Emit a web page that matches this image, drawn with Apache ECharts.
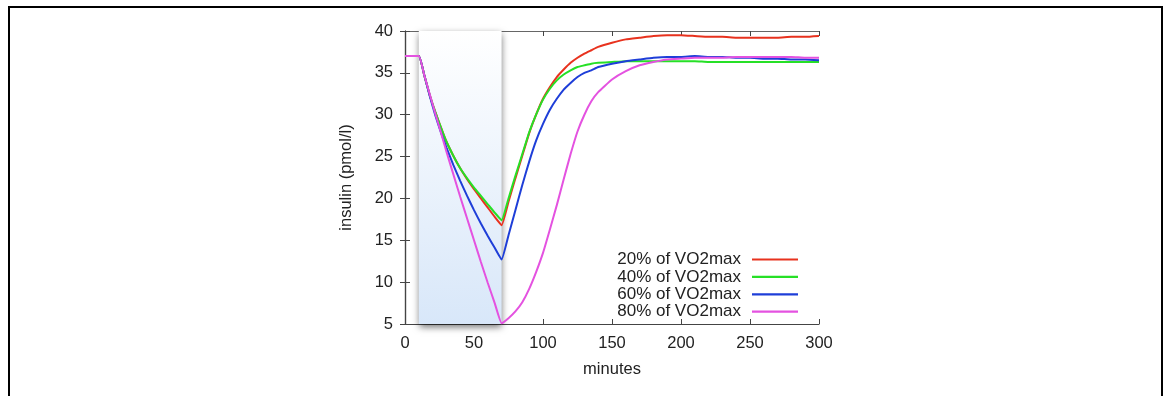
<!DOCTYPE html>
<html><head><meta charset="utf-8">
<script src="https://cdn.jsdelivr.net/npm/echarts@6/dist/echarts.min.js"></script>
<style>html,body{margin:0;padding:0;background:#fff}#c{width:1165px;height:396px}</style>
</head><body><div id="c"></div>
<script>
const minutes = [0,10,14,18,22,26,30,35,40,45,50,55,60,65,70,75,80,85,90,95,100,105,110,115,120,125,130,135,140,150,160,170,180,190,200,210,220,230,240,250,260,270,280,290,300];
const vo20 = [37,37,34.7,32.3,30.3,28.5,26.8,25.1,23.6,22.3,21.1,20.0,18.9,17.8,16.8,19.6,22.4,25.1,27.8,30.0,31.9,33.3,34.5,35.4,36.2,36.8,37.3,37.7,38.1,38.6,39.0,39.2,39.4,39.5,39.5,39.4,39.3,39.3,39.2,39.2,39.2,39.2,39.3,39.3,39.4];
const vo40 = [37,37,34.7,32.3,30.3,28.5,26.8,25.1,23.6,22.4,21.3,20.3,19.3,18.3,17.4,20.0,22.7,25.3,27.9,30.0,31.8,33.1,34.1,34.8,35.3,35.7,35.9,36.1,36.2,36.3,36.4,36.4,36.4,36.4,36.4,36.4,36.3,36.3,36.3,36.3,36.3,36.3,36.3,36.3,36.3];
const vo60 = [37,37,34.7,32.2,29.9,27.9,26.1,24.0,22.1,20.3,18.6,17.0,15.5,14.1,12.7,15.6,18.6,21.6,24.4,26.9,28.9,30.6,31.9,33.0,33.8,34.5,35.0,35.3,35.7,36.1,36.4,36.6,36.8,36.9,36.9,37.0,36.9,36.9,36.8,36.8,36.7,36.7,36.6,36.6,36.5];
const vo80 = [37,37,34.7,32.4,30.1,27.9,25.6,22.9,20.2,17.6,15.0,12.4,9.9,7.5,5.1,5.7,6.5,7.6,9.2,11.2,13.5,16.3,19.2,22.3,25.3,28.0,30.0,31.6,32.7,34.2,35.2,35.9,36.3,36.6,36.7,36.8,36.8,36.8,36.9,36.9,36.9,36.9,36.9,36.8,36.8];
const seriesNames = ['20% of VO2max','40% of VO2max','60% of VO2max','80% of VO2max'];
const exercise = [10, 70];

const FONT = 'Liberation Sans, Arial, Helvetica, sans-serif';
const colors = ['#e8321e','#26e026','#1e3ed8','#e452e0'];
const pair = v => minutes.map((m,i)=>[m,v[i]]);
const allVals = [vo20, vo40, vo60, vo80];

const series = allVals.map((v,i)=>({
  name: seriesNames[i], type:'line', data: pair(v), symbol:'none', showSymbol:false,
  smooth:0.12,
  lineStyle:{color:colors[i], width:2}, itemStyle:{color:colors[i]}, z: 3+i
}));
series[0].markArea = {
  silent:true,
  itemStyle:{
    color:{type:'linear',x:0,y:0,x2:0,y2:1,colorStops:[{offset:0,color:'#ffffff'},{offset:1,color:'#d8e7f9'}]},
    shadowBlur:7, shadowColor:'rgba(0,0,0,0.55)', shadowOffsetX:0, shadowOffsetY:3,
    borderWidth:0
  },
  data:[[{xAxis:exercise[0]},{xAxis:exercise[1]}]]
};

const chart = echarts.init(document.getElementById('c'), null, {renderer:'canvas'});
chart.setOption({
  animation:false,
  backgroundColor:'#fff',
  textStyle:{fontFamily:FONT},
  grid:{left:405, top:31, right:346, bottom:72, containLabel:false},
  legend:{
    orient:'vertical', right:362, top:246, align:'right', padding:5,
    itemWidth:46, itemHeight:14, itemGap:0.4,
    icon:'path://M0,6 L46,6 L46,8.2 L0,8.2 Z',
    textStyle:{fontSize:17, lineHeight:14, color:'#222', fontFamily:FONT, padding:[0,6,0,0]},
    data: seriesNames
  },
  xAxis:[{
    type:'value', min:0, max:300, interval:50,
    name:'minutes', nameLocation:'middle', nameGap:37,
    nameTextStyle:{fontSize:16.5, color:'#222', fontFamily:FONT},
    axisLine:{show:true, lineStyle:{color:'#444', width:1.2}},
    axisTick:{show:true, inside:true, length:5, lineStyle:{color:'#444'}},
    axisLabel:{fontSize:16.5, color:'#222', margin:11, fontFamily:FONT},
    splitLine:{show:false}
  },{
    type:'value', min:0, max:300, interval:50, position:'top',
    axisLine:{show:true, lineStyle:{color:'#666', width:1.2}},
    axisTick:{show:true, inside:true, length:5, lineStyle:{color:'#444'}},
    axisLabel:{show:false}, splitLine:{show:false}
  }],
  yAxis:[{
    type:'value', min:5, max:40, interval:5,
    name:'insulin (pmol/l)', nameLocation:'middle', nameGap:50, nameRotate:90,
    nameTextStyle:{fontSize:16.5, color:'#222', fontFamily:FONT},
    axisLine:{show:true, lineStyle:{color:'#444', width:1.2}},
    axisTick:{show:true, inside:true, length:5, lineStyle:{color:'#444'}},
    axisLabel:{fontSize:16.5, color:'#222', margin:12, fontFamily:FONT},
    splitLine:{show:false}
  },{
    type:'value', min:5, max:40, interval:5, position:'right',
    axisLine:{show:true, lineStyle:{color:'#444', width:1.2}},
    axisTick:{show:true, inside:true, length:5, lineStyle:{color:'#444'}},
    axisLabel:{show:false}, splitLine:{show:false}
  }],
  series: series,
  graphic:[{
    type:'rect', silent:true, z:100,
    shape:{x:9, y:7, width:1153, height:420},
    style:{fill:'none', stroke:'#000', lineWidth:2}
  }]
});
</script></body></html>
